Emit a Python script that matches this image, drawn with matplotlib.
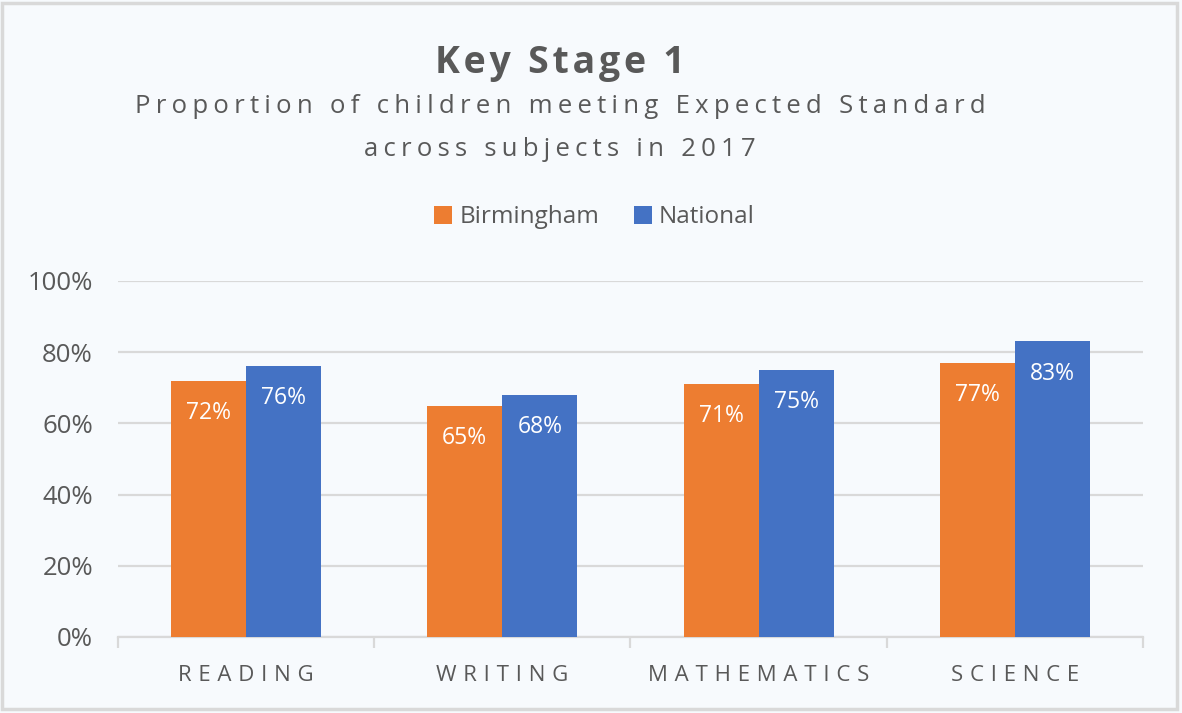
import numpy as np
import matplotlib.pyplot as plt
from matplotlib.patches import Rectangle
from matplotlib.ticker import FuncFormatter

subjects = ['READING', 'WRITING', 'MATHEMATICS', 'SCIENCE']
birmingham = [72, 65, 71, 77]
national = [76, 68, 75, 83]
series_names = ['Birmingham', 'National']

orange = '#ED7D31'
blue = '#4472C4'
grey = '#595959'
bg = '#F7FAFD'

plt.rcParams['font.family'] = ['Open Sans', 'DejaVu Sans']


def spaced(s, n=1):
    # fake letter spacing with hair spaces
    return ('\u200a' * n).join(s)


fig = plt.figure(figsize=(11.82, 7.13), dpi=100, facecolor=bg)
fig.patches.append(Rectangle((0.002, 0.006), 0.994, 0.99, transform=fig.transFigure,
                             fill=False, edgecolor='#D9D9D9', linewidth=2.5))

ax = fig.add_axes([0.0998, 0.1066, 0.8672, 0.4994])
ax.set_facecolor(bg)

x = np.arange(len(subjects))
w = 0.293
b1 = ax.bar(x - w / 2, np.array(birmingham) / 100, w, color=orange, label=series_names[0], zorder=3)
b2 = ax.bar(x + w / 2, np.array(national) / 100, w, color=blue, label=series_names[1], zorder=3)

for bars, vals in [(b1, birmingham), (b2, national)]:
    for r, v in zip(bars, vals):
        ax.text(r.get_x() + r.get_width() / 2, v / 100 - 0.09, f'{v}%', ha='center', va='center',
                color='white', fontsize=16.5, zorder=4)

ax.set_ylim(0, 1)
ax.set_xlim(-0.5, 3.5)
ax.set_yticks(np.arange(0, 1.01, 0.2))
ax.yaxis.set_major_formatter(FuncFormatter(lambda v, p: f'{v * 100:.0f}%'))
ax.grid(axis='y', color='#D9D9D9', linewidth=1.6, zorder=0)
ax.tick_params(axis='y', length=0, pad=18, labelsize=18.5, labelcolor=grey)

ax.set_xticks(x)
ax.set_xticklabels([spaced(s, 3) for s in subjects], fontsize=16, color=grey)
ax.tick_params(axis='x', length=0, pad=20)
# category separators below the axis
ax.set_xticks(np.arange(-0.5, 4, 1), minor=True)
ax.tick_params(axis='x', which='minor', length=8, width=1.6, color='#D9D9D9', direction='out')

for s in ['top', 'right', 'left']:
    ax.spines[s].set_visible(False)
ax.spines['bottom'].set_color('#D9D9D9')
ax.spines['bottom'].set_linewidth(1.6)

fig.text(0.474, 0.912, spaced('Key Stage 1', 1), ha='center', va='center', fontsize=27,
         fontweight='bold', color=grey)
fig.text(0.474, 0.850, spaced('Proportion of children meeting Expected Standard', 2), ha='center',
         va='center', fontsize=18.5, color=grey)
fig.text(0.474, 0.791, spaced('across subjects in 2017', 2), ha='center', va='center',
         fontsize=18.5, color=grey)

fig.legend(loc='center', bbox_to_anchor=(0.503, 0.695), ncol=2, frameon=False, fontsize=17.5,
           labelcolor=grey, handlelength=0.75, handleheight=0.75, handletextpad=0.3,
           columnspacing=1.4)

fig.savefig('out.png', dpi=100, facecolor=bg)
